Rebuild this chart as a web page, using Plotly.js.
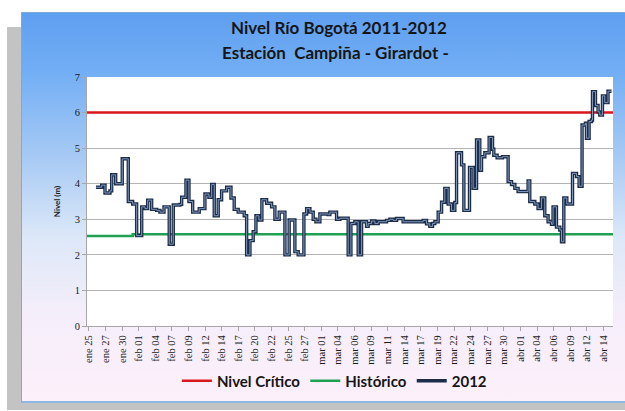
<!DOCTYPE html>
<html>
<head>
<meta charset="utf-8">
<script src="https://cdn.plot.ly/plotly-3.0.1.min.js"></script>
<style>
html,body{margin:0;padding:0;background:#ffffff;width:625px;height:411px;overflow:hidden;}
#shadow{position:absolute;left:7px;top:27px;width:630px;height:383px;background:#c3c3c3;}
#panel{position:absolute;left:21px;top:12px;width:610px;height:388px;border:1px solid #7fa9d8;border-bottom:2px solid #8db6e2;
background:linear-gradient(to bottom,#5f9ff0 0%,#72aef4 15%,#a9cbf4 38%,#dde8f8 58%,#f5eefa 78%,#fcf0fa 100%);}
#chart{position:absolute;left:0;top:0;width:625px;height:411px;}
</style>
</head>
<body>
<div id="shadow"></div>
<div id="panel"></div>
<div id="chart"></div>
<script>
// Tick labels (every 2.5 days)
var etiquetas = ["ene 25","ene 27","ene 30","feb 01","feb 04","feb 07","feb 09","feb 12","feb 14","feb 17",
  "feb 20","feb 22","feb 25","feb 27","mar 01","mar 04","mar 06","mar 09","mar 11","mar 14",
  "mar 17","mar 19","mar 22","mar 24","mar 27","mar 30","abr 01","abr 04","abr 06","abr 09","abr 12","abr 14"];
var diasPorEtiqueta = 2.5;

// Serie 2012: days since ene 25 where each level starts
var dias2012 = [1.05,1.91,2.41,3.16,3.42,4.02,5.01,5.92,6.58,7.18,7.94,8.43,8.84,9.44,10.20,10.69,11.30,12.09,12.70,13.70,
  13.96,14.61,15.06,15.62,16.61,17.47,18.07,18.48,18.87,19.47,19.98,20.74,21.39,21.88,22.48,23.39,23.75,24.25,24.74,25.15,
  25.60,26.05,26.76,27.51,28.01,28.66,29.52,30.16,31.02,31.52,32.38,32.79,33.28,33.78,34.19,34.79,36.04,36.29,37.30,37.80,
  39.05,39.46,40.06,40.56,41.07,41.82,42.06,42.57,43.07,43.57,44.83,45.33,45.83,46.34,47.33,50.35,50.86,51.35,51.76,52.11,
  52.61,53.12,53.61,54.11,54.62,55.12,55.38,56.13,56.48,57.33,57.88,58.39,58.88,59.14,59.64,60.29,60.80,60.99,61.49,62.30,
  63.15,63.66,64.16,64.65,66.16,66.41,67.17,67.66,68.17,68.67,69.17,69.68,69.92,70.43,70.93,71.19,71.54,71.99,72.85,73.45,
  73.84,74.29,74.80,74.95,75.35,75.71,75.86,76.31,76.70,76.96,77.36,77.71,78.20,78.72];
var nivel2012 = [3.90,3.96,3.74,3.80,4.25,4.00,4.70,3.50,3.43,2.54,3.35,3.30,3.54,3.28,3.25,3.20,3.35,2.30,3.40,3.42,
  3.62,4.10,3.50,3.20,3.30,3.71,3.62,3.98,3.10,3.55,3.80,3.90,3.60,3.28,3.20,3.10,2.00,2.40,2.65,3.10,
  2.98,3.55,3.45,3.35,3.00,3.20,2.00,2.98,2.09,2.00,3.15,3.30,3.20,3.00,2.93,3.15,3.13,3.20,3.00,3.03,
  2.00,2.88,2.93,2.00,2.93,2.80,2.88,2.95,2.88,2.93,2.97,3.00,2.97,3.02,2.93,2.97,2.87,2.80,2.88,2.93,
  3.20,3.48,3.87,3.43,3.25,3.47,4.87,4.53,3.25,4.46,3.87,5.23,4.38,4.76,4.87,5.30,4.97,4.80,4.73,4.76,
  4.06,3.98,3.87,3.78,4.08,3.50,3.43,3.30,3.60,3.10,2.93,2.86,3.35,2.78,2.70,2.37,3.60,3.43,4.29,4.20,
  3.93,5.65,5.70,5.28,5.75,5.79,6.59,6.20,6.02,5.93,6.47,6.28,6.60,6.60];

// Histórico
var diasHistorico = [-0.3,6.6,78.95];
var nivelHistorico = [2.53,2.58,2.58];
// Nivel crítico
var diasCritico = [-0.3,78.95];
var nivelCritico = [6,6];

var tituloLinea1 = "Nivel Río Bogotá 2011-2012";
var tituloLinea2 = "Estación  Campiña - Girardot -";

var tickVals = etiquetas.map(function(_, i){ return i * diasPorEtiqueta; });
var fuenteTitulo = {family: "Lato, 'Open Sans', sans-serif", size: 17, color: "#161616", weight: "bold"};

var traces = [
  {x: diasCritico, y: nivelCritico, name: "Nivel Crítico", mode: "lines",
   line: {color: "#d9161b", width: 2.6}, hoverinfo: "skip"},
  {x: diasHistorico, y: nivelHistorico, name: "Histórico", mode: "lines",
   line: {color: "#1fa052", width: 2.6, shape: "hv"}, hoverinfo: "skip"},
  {x: dias2012, y: nivel2012, name: "2012", mode: "lines",
   line: {color: "#1c2d4a", width: 3.4, shape: "hv"}},
  {x: dias2012, y: nivel2012, name: "2012", mode: "lines", showlegend: false,
   line: {color: "#8198bb", width: 1.0, shape: "hv"}}
];

var layout = {
  width: 625, height: 411,
  paper_bgcolor: "rgba(0,0,0,0)",
  plot_bgcolor: "#ffffff",
  margin: {l: 87, r: 12, t: 77, b: 85},
  title: {
    text: tituloLinea1,
    font: fuenteTitulo,
    x: (339 - 87) / 526, xanchor: "center", xref: "paper",
    y: 1 - 28/411, yanchor: "middle", yref: "container"
  },
  annotations: [{
    text: tituloLinea2, showarrow: false,
    xref: "paper", yref: "paper", x: (335 - 87) / 526, y: (326 - 53) / 249,
    xanchor: "center", yanchor: "middle", font: fuenteTitulo
  }],
  xaxis: {
    range: [-0.3, 78.95],
    tickmode: "array", tickvals: tickVals, ticktext: etiquetas,
    tickangle: -90,
    ticks: "outside", ticklen: 4, tickcolor: "#a6a6a6",
    showline: true, linecolor: "#a6a6a6", linewidth: 1,
    showgrid: false, zeroline: false,
    tickfont: {family: "'Liberation Serif', 'DejaVu Serif', serif", size: 10.5, color: "#1a1a1a"}
  },
  yaxis: {
    range: [0, 7], dtick: 1,
    ticks: "outside", ticklen: 4, tickcolor: "#a6a6a6",
    showline: true, linecolor: "#a6a6a6", linewidth: 1,
    showgrid: true, gridcolor: "#b4b4b4", gridwidth: 1, zeroline: false,
    tickfont: {family: "'Liberation Serif', 'DejaVu Serif', serif", size: 10.5, color: "#1a1a1a"},
    title: {text: "Nivel (m)", standoff: 12,
      font: {family: "Lato, 'Open Sans', sans-serif", size: 8, color: "#1a1a1a", weight: "bold"}}
  },
  showlegend: true,
  legend: {
    orientation: "h", x: 0.535, xanchor: "center", xref: "container",
    y: 0.073, yanchor: "middle", yref: "container",
    bgcolor: "rgba(0,0,0,0)",
    font: {family: "Lato, 'Open Sans', sans-serif", size: 15, color: "#161616", weight: "bold"},
    itemwidth: 30, tracegroupgap: 0
  }
};

Plotly.newPlot("chart", traces, layout, {displayModeBar: false, staticPlot: true});
</script>
</body>
</html>
